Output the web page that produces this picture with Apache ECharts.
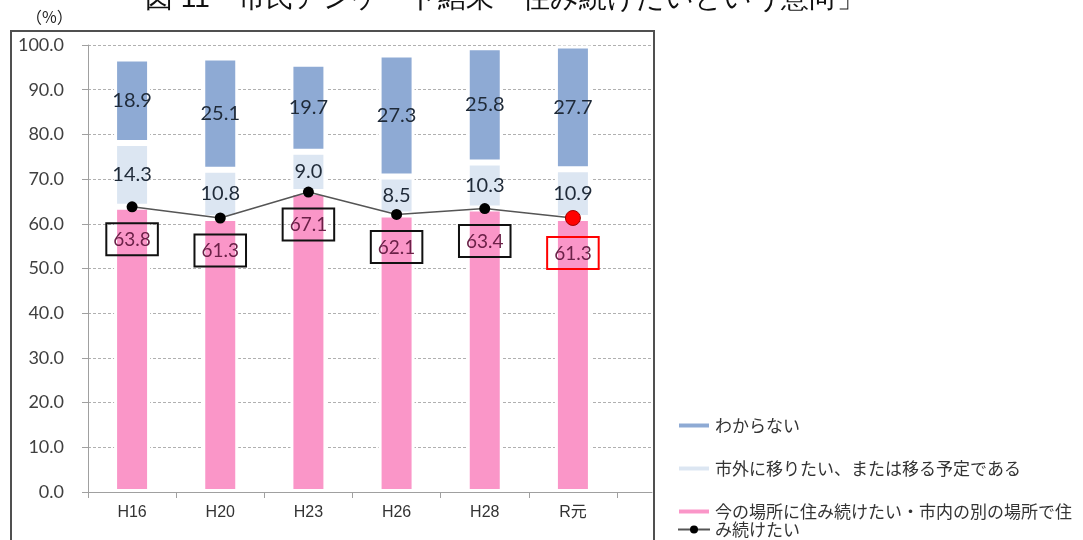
<!DOCTYPE html>
<html>
<head>
<meta charset="utf-8">
<script src="https://cdn.jsdelivr.net/npm/echarts@6/dist/echarts.min.js"></script>
<style>
html,body{margin:0;padding:0;background:#fff;}
#main{width:1083px;height:540px;}
</style>
</head>
<body>
<div id="main"></div>
<script>
//市民アンケート 積み上げ棒 + 折れ線
var categories = ['H16','H20','H23','H26','H28','R元'];
var stayValues = [63.8,61.3,67.1,62.1,63.4,61.3];
var moveOutValues = [14.3,10.8,9.0,8.5,10.3,10.9];
var unknownValues = [18.9,25.1,19.7,27.3,25.8,27.7];
var yTicks = [0,10,20,30,40,50,60,70,80,90,100];

var nameUnknown = 'わからない';
var nameMoveOut = '市外に移りたい、または移る予定である';
var nameStay = '今の場所に住み続けたい・市内の別の場所で住';
var nameLine = 'み続けたい';

var numFont = 'Lato, "Noto Sans", sans-serif';
var jpFont = '"Noto Sans CJK JP", sans-serif';

function fmt(p){
    return Number(p.value).toFixed(1);
}

//折れ線のデータ（最後の点だけ赤）
function lineData(){
    var arr = new Array();
    for(var i = 0;i<stayValues.length;i++){
        var item = {value: stayValues[i]};
        if(i==stayValues.length-1){
            item.symbolSize = 15;
            item.itemStyle = {color:'#ff0000',borderColor:'#a00000',borderWidth:1};
            item.label = {borderColor:'#ff0000'};
        }
        arr.push(item);
    }
    return arr;
}

var option = {
    animation:false,
    backgroundColor:'#ffffff',
    grid:[
        {left:88,top:45,width:564,height:447},
        {left:88,top:45,width:529,height:447}
    ],
    xAxis:[
        {
            gridIndex:0,type:'value',min:0,max:1,
            axisLine:{show:true,lineStyle:{color:'#a0a0a0',width:1}},
            axisTick:{show:false},axisLabel:{show:false},splitLine:{show:false}
        },
        {
            gridIndex:1,type:'category',data:categories,
            axisLine:{show:true,lineStyle:{color:'#a0a0a0',width:1}},
            axisTick:{show:true,length:6,lineStyle:{color:'#a0a0a0'}},
            axisLabel:{color:'#333',fontSize:16,margin:13,fontFamily:'"Liberation Sans", "Noto Sans CJK JP", sans-serif'}
        }
    ],
    yAxis:[
        {
            gridIndex:0,type:'value',min:yTicks[0],max:yTicks[yTicks.length-1],interval:10,
            axisLine:{show:true,lineStyle:{color:'#a0a0a0'}},
            axisTick:{show:true,length:6,lineStyle:{color:'#a0a0a0'}},
            axisLabel:{
                color:'#404040',fontSize:18,margin:24,fontFamily:numFont,
                formatter:function(v){ return v.toFixed(1); }
            },
            splitLine:{show:true,lineStyle:{color:'#b0b0b0',type:[3,2],width:1}}
        },
        {
            gridIndex:1,type:'value',min:0,max:100,
            show:false
        }
    ],
    legend:[
        {
            orient:'vertical',left:672,top:412,itemGap:26,
            itemWidth:32,itemHeight:6,icon:'rect',
            textStyle:{color:'#333',fontSize:17,fontFamily:jpFont},
            data:[nameUnknown,nameMoveOut,nameStay]
        },
        {
            orient:'vertical',left:672,top:516,
            itemWidth:32,itemHeight:10,
            textStyle:{color:'#333',fontSize:17,fontFamily:jpFont,padding:[7,0,0,0]},
            data:[nameLine]
        }
    ],
    graphic:[
        {
            type:'text',left:145,top:-15,silent:true,
            style:{text:'図 11　市民アンケート結果「住み続けたいという意向」',fontSize:28,fill:'#111',font:'28px "Noto Sans CJK JP"'}
        },
        {
            type:'text',left:26,top:9,silent:true,
            style:{text:'（%）',font:'16px "Noto Sans CJK JP"',fill:'#222'}
        },
        {
            type:'rect',silent:true,z:-1,
            shape:{x:11,y:31,width:643,height:540},
            style:{fill:'none',stroke:'#505050',lineWidth:2}
        }
    ],
    series:[
        {
            name:nameStay,type:'bar',stack:'a',xAxisIndex:1,yAxisIndex:1,
            barWidth:36,data:stayValues,
            itemStyle:{color:'#fa96c8',borderColor:'#ffffff',borderWidth:3}
        },
        {
            name:nameMoveOut,type:'bar',stack:'a',xAxisIndex:1,yAxisIndex:1,
            barWidth:36,data:moveOutValues,
            itemStyle:{color:'#dce6f2',borderColor:'#ffffff',borderWidth:3},
            label:{show:true,position:'inside',formatter:fmt,color:'#1f2a38',fontSize:20,fontFamily:numFont}
        },
        {
            name:nameUnknown,type:'bar',stack:'a',xAxisIndex:1,yAxisIndex:1,
            barWidth:36,data:unknownValues,
            itemStyle:{color:'#8eaad4',borderColor:'#ffffff',borderWidth:3},
            label:{show:true,position:'inside',formatter:fmt,color:'#1f2a38',fontSize:20,fontFamily:numFont}
        },
        {
            name:nameLine,type:'line',xAxisIndex:1,yAxisIndex:1,z:5,
            data:lineData(),
            symbol:'circle',symbolSize:11,
            lineStyle:{color:'#555555',width:1.5},
            itemStyle:{color:'#000000'},
            label:{
                show:true,position:'bottom',distance:11,formatter:fmt,
                color:'#6b2148',fontSize:19,fontFamily:numFont,
                borderColor:'#111',borderWidth:2,padding:[7,7,6,7]
            }
        }
    ]
};

var chart = echarts.init(document.getElementById('main'));
chart.setOption(option);
</script>
</body>
</html>
